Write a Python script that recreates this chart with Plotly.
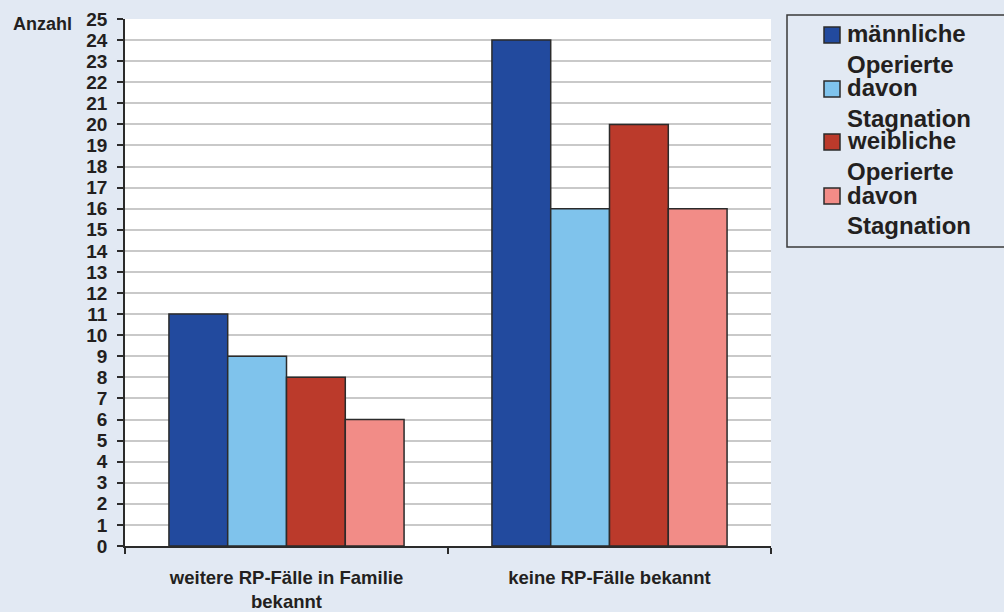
import plotly.graph_objects as go

# Categories and counts per group
categories = ["weitere RP-Fälle in Familie<br>bekannt", "keine RP-Fälle bekannt"]
series_names = [
    "männliche Operierte",
    "davon Stagnation",
    "weibliche Operierte",
    "davon Stagnation",
]
legend_lines = [
    ["männliche", "Operierte"],
    ["davon", "Stagnation"],
    ["weibliche", "Operierte"],
    ["davon", "Stagnation"],
]
male_operated = [11, 24]
male_stagnation = [9, 16]
female_operated = [8, 20]
female_stagnation = [6, 16]
y_ticks = list(range(0, 26))

colors = ["#224a9e", "#7fc3ec", "#bb3a2b", "#f28c87"]
BG = "#e2e9f3"
FONT = "Liberation Sans, Arial, Helvetica, sans-serif"
INK = "#231f20"

W, H = 1004, 612
L, R, T, B = 125, 233, 19, 66
PW, PH = W - L - R, H - T - B


def px_x(x):
    return (x - L) / PW


def px_y(y):
    return 1 - (y - T) / PH


fig = go.Figure()
for name, vals, col in zip(
    series_names,
    [male_operated, male_stagnation, female_operated, female_stagnation],
    colors,
):
    fig.add_trace(
        go.Bar(
            x=categories,
            y=vals,
            name=name,
            marker=dict(color=col, line=dict(color="#2b2b2b", width=1.5)),
            showlegend=False,
        )
    )

# Legend box drawn by hand: squares and wrapped labels
shapes = [
    dict(
        type="rect", xref="paper", yref="paper",
        x0=px_x(787), x1=px_x(1012), y0=px_y(247), y1=px_y(15),
        line=dict(color="#3a3a3a", width=1.5), fillcolor=BG, layer="above",
    )
]
annotations = [
    dict(
        text="Anzahl", xref="paper", yref="paper", x=px_x(11), y=px_y(24),
        xanchor="left", yanchor="middle", showarrow=False,
        font=dict(family=FONT, size=18, color=INK, weight="bold"),
    )
]
sq_centers = [35, 89, 142, 196]
for i, (lines, col) in enumerate(zip(legend_lines, colors)):
    cy = sq_centers[i]
    shapes.append(
        dict(
            type="rect", xref="paper", yref="paper",
            x0=px_x(824), x1=px_x(840), y0=px_y(cy + 8), y1=px_y(cy - 8),
            fillcolor=col, line=dict(color="#2b2b2b", width=1.5), layer="above",
        )
    )
    for j, txt in enumerate(lines):
        annotations.append(
            dict(
                text=txt, xref="paper", yref="paper",
                x=px_x(845), y=px_y(cy - 1 + j * 30),
                xanchor="left", yanchor="middle", showarrow=False,
                font=dict(family=FONT, size=24, color=INK, weight="bold"),
            )
        )

fig.update_layout(
    width=W, height=H,
    margin=dict(l=L, r=R, t=T, b=B, pad=0, autoexpand=False),
    paper_bgcolor=BG, plot_bgcolor="white",
    barmode="group", bargap=0.272, bargroupgap=0,
    showlegend=False,
    shapes=shapes, annotations=annotations,
    font=dict(family=FONT, color=INK),
)
fig.update_yaxes(
    range=[0, 25], tickvals=y_ticks, ticktext=[str(v) for v in y_ticks],
    showgrid=True, gridcolor="#c9c9c9", gridwidth=1.5,
    showline=True, linecolor="#2b2b2b", linewidth=1.5,
    ticks="outside", ticklen=6, tickcolor="#2b2b2b", tickwidth=1.5,
    ticklabelstandoff=6, automargin=False,
    tickfont=dict(family=FONT, size=19, color=INK, weight="bold"),
    zeroline=False,
)
fig.update_xaxes(
    showline=True, linecolor="#2b2b2b", linewidth=1.5,
    ticks="outside", ticklen=6, tickcolor="#2b2b2b", tickwidth=1.5,
    tickson="boundaries", ticklabelstandoff=14, automargin=False,
    tickfont=dict(family=FONT, size=18.5, color=INK, weight="bold"),
    showgrid=False,
)

fig.write_html("out.html")
